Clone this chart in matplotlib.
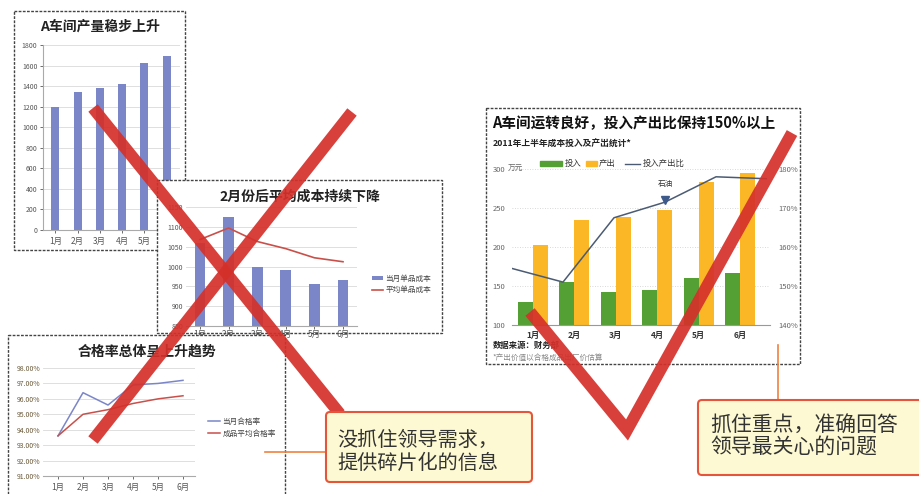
import numpy as np
import matplotlib.pyplot as plt
from matplotlib.patches import Rectangle, FancyBboxPatch
from matplotlib.ticker import FuncFormatter

plt.rcParams['font.family'] = ['Noto Sans CJK SC', 'DejaVu Sans']
plt.rcParams['axes.unicode_minus'] = False

W, H = 920, 494

months = ["1月", "2月", "3月", "4月", "5月", "6月"]

# A车间产量
output = [1200, 1340, 1380, 1420, 1620, 1690]
# 单品成本
cost_month = [1060, 1125, 1000, 990, 957, 965]
cost_avg = [1068, 1097, 1063, 1045, 1022, 1012]
# 合格率 (%)
pass_month = [93.6, 96.4, 95.6, 96.9, 97.0, 97.2]
pass_avg = [93.6, 95.0, 95.3, 95.7, 96.0, 96.2]
# 投入 / 产出 (万元), 投入产出比 (%)
invest = [130, 155, 142, 145, 160, 167]
produce = [202, 235, 238, 248, 283, 295]
ratio = [154.5, 151, 167.5, 171.5, 178, 177.5]

BLUE = '#7b86c8'
RED_LINE = '#c9504a'
GRID = '#d9d9d9'
TICK = '#555555'


def rect(l, t, r, b):
    return [l / W, 1 - b / H, (r - l) / W, (b - t) / H]


fig = plt.figure(figsize=(9.2, 4.94), dpi=100)


def card(l, t, r, b, z):
    # white paper with dotted border, coordinates in pixels
    ax = fig.add_axes(rect(l, t, r, b), zorder=z)
    ax.set_xlim(l, r)
    ax.set_ylim(b, t)
    ax.set_axis_off()
    ax.add_patch(Rectangle((l, t), r - l, b - t, facecolor='white', edgecolor='#444444',
                           lw=1.0, ls=(0, (2, 1)), clip_on=False))
    return ax


def style_small(ax, fs=5):
    for s in ['top', 'right']:
        ax.spines[s].set_visible(False)
    ax.spines['left'].set_color('#aaaaaa')
    ax.spines['bottom'].set_color('#aaaaaa')
    ax.tick_params(labelsize=fs, colors=TICK, length=2, width=0.6, pad=2)
    ax.grid(axis='y', color=GRID, lw=0.6)
    ax.set_axisbelow(True)
    ax.patch.set_alpha(0)


x = np.arange(len(months))

# ---------- chart 1 ----------
c1 = card(14, 11, 185, 250, 1)
c1.text(100, 27, "A车间产量稳步上升", ha='center', va='center', fontsize=10, fontweight='bold', color='#222222')
a1 = fig.add_axes(rect(43, 45, 180, 230), zorder=1.5)
a1.bar(x, output, width=0.36, color=BLUE)
a1.set_xlim(-0.55, 5.6)
a1.set_ylim(0, 1800)
a1.set_yticks(range(0, 1801, 200))
a1.set_xticks(x, months)
style_small(a1)
a1.tick_params(axis='x', labelsize=6, pad=3)

# ---------- chart 2 ----------
c2 = card(157, 180, 442, 333, 2)
c2.text(300, 197, "2月份后平均成本持续下降", ha='center', va='center', fontsize=10, fontweight='bold', color='#222222')
a2 = fig.add_axes(rect(186, 207, 357, 326), zorder=2.5)
bars2 = a2.bar(x, cost_month, width=0.38, color=BLUE)
line2, = a2.plot(x, cost_avg, color=RED_LINE, lw=1.2)
a2.set_xlim(-0.49, 5.49)
a2.set_ylim(850, 1150)
a2.set_yticks(range(850, 1151, 50))
a2.set_xticks(x, months)
style_small(a2)
a2.tick_params(axis='x', labelsize=6, pad=1)
a2.spines['left'].set_visible(False)
a2.tick_params(axis='y', length=0)
a2.legend([bars2, line2], ["当月单品成本", "平均单品成本"],
          loc='upper left', bbox_to_anchor=(368 / W, 1 - 271 / H), bbox_transform=fig.transFigure,
          frameon=False, fontsize=5.5, handlelength=1.5, handleheight=0.5, handletextpad=0.3,
          labelspacing=0.45, borderpad=0, labelcolor='#444444')

# ---------- chart 3 ----------
c3 = card(8, 335, 285, 500, 3)
c3.text(147, 352, "合格率总体呈上升趋势", ha='center', va='center', fontsize=10, fontweight='bold', color='#222222')
a3 = fig.add_axes(rect(43, 368, 195, 476), zorder=3.5)
a3.plot(x, pass_month, color=BLUE, lw=1.1, label="当月合格率")
a3.plot(x, pass_avg, color=RED_LINE, lw=1.1, label="成品平均合格率")
a3.set_xlim(-0.6, 5.48)
a3.set_ylim(91, 98)
a3.set_yticks(range(91, 99))
a3.yaxis.set_major_formatter(FuncFormatter(lambda v, p: f"{v:.2f}%"))
a3.set_xticks(x, months)
style_small(a3)
a3.spines['left'].set_visible(False)
a3.tick_params(axis='y', length=0, colors='#6b5a3a')
a3.tick_params(axis='x', labelsize=6, pad=3)
a3.legend(loc='upper left', bbox_to_anchor=(204 / W, 1 - 414 / H), bbox_transform=fig.transFigure,
          frameon=False, fontsize=5.5, handlelength=1.6, handletextpad=0.3,
          labelspacing=0.55, borderpad=0, labelcolor='#444444')

# ---------- chart 4 ----------
GREEN = '#55a035'
ORANGE = '#fbb725'
SLATE = '#4b5b73'
c4 = card(486, 108, 800, 364, 4)
c4.text(492, 123, "A车间运转良好，投入产出比保持150%以上", ha='left', va='center',
        fontsize=10.5, fontweight='bold', color='#111111')
c4.text(493, 144, "2011年上半年成本投入及产出统计*", ha='left', va='center',
        fontsize=6.3, fontweight='bold', color='#222222')
# legend row
c4.add_patch(Rectangle((540, 161), 22, 5, color=GREEN))
c4.text(565, 163.5, "投入", fontsize=6, va='center', color='#333333')
c4.add_patch(Rectangle((586, 161), 11, 5, color=ORANGE))
c4.text(599, 163.5, "产出", fontsize=6, va='center', color='#333333')
c4.plot([625, 640], [163.5, 163.5], color=SLATE, lw=1)
c4.text(643, 163.5, "投入产出比", fontsize=6, va='center', color='#333333')
c4.text(508, 169, "万元", fontsize=5.5, va='center', ha='left', color='#666666')
c4.text(493, 345, "数据来源：财务部", fontsize=6, va='center', fontweight='bold', color='#222222')
c4.text(493, 358, "*产出价值以合格成品出厂价估算", fontsize=5.5, va='center', color='#888888')

a4 = fig.add_axes(rect(512, 169, 770, 325), zorder=4.5)
a4.bar(x - 0.18, invest, width=0.36, color=GREEN)
a4.bar(x + 0.18, produce, width=0.36, color=ORANGE)
a4.set_xlim(-0.5, 5.72)
a4.set_ylim(100, 300)
a4.set_yticks(range(100, 301, 50))
a4.set_xticks(x, months)
for s in ['top', 'right', 'left']:
    a4.spines[s].set_visible(False)
a4.spines['bottom'].set_color('#999999')
a4.tick_params(axis='y', length=0, labelsize=5.5, colors='#666666', pad=5)
a4.tick_params(axis='x', length=0, labelsize=6, colors='#333333', pad=4)
for lab in a4.get_xticklabels():
    lab.set_fontweight('bold')
a4.grid(axis='y', color='#cccccc', lw=0.6, ls=(0, (1, 2)))
a4.set_axisbelow(True)
a4.patch.set_alpha(0)

a5 = fig.add_axes(rect(512, 169, 767, 325), zorder=4.6)
a5.patch.set_alpha(0)
a5.plot(x, ratio, color=SLATE, lw=1.1)
a5.plot(x[3], ratio[3] + 0.6, marker='v', ms=6, color='#3d5a8a')
a5.annotate("石油", (x[3], ratio[3]), xytext=(0, 10), textcoords='offset points',
            ha='center', va='bottom', fontsize=5.5, color='#333333')
a5.set_xlim(0, 5)
a5.set_ylim(140, 180)
a5.set_yticks(range(140, 181, 10))
a5.yaxis.set_major_formatter(FuncFormatter(lambda v, p: f"{v:.0f}%"))
a5.yaxis.tick_right()
a5.set_xticks([])
for s in a5.spines.values():
    s.set_visible(False)
a5.tick_params(axis='y', length=0, labelsize=5.5, colors='#666666', pad=8)

# ---------- overlay: strokes and callouts ----------
ov = fig.add_axes([0, 0, 1, 1], zorder=100)
ov.set_xlim(0, W)
ov.set_ylim(H, 0)
ov.set_axis_off()
ov.patch.set_alpha(0)

ORANGE_LINE = '#f08040'
ov.plot([265, 328], [452, 452], color=ORANGE_LINE, lw=1.2)
ov.plot([778, 778], [345, 400], color=ORANGE_LINE, lw=1.2)

STROKE = '#d5302a'
kw = dict(color=STROKE, lw=8.6, alpha=0.92, solid_capstyle='butt', solid_joinstyle='miter')
ov.plot([93, 340], [108, 414], **kw)
ov.plot([352, 93], [112, 440], **kw)
ov.plot([530, 627, 792], [312, 430, 133], **kw)

BOX_FACE = '#fdf9d2'
BOX_EDGE = '#e5553a'
ov.add_patch(FancyBboxPatch((326, 412), 206, 70, boxstyle="round,pad=0,rounding_size=4",
                            facecolor=BOX_FACE, edgecolor=BOX_EDGE, lw=1.5, zorder=5))
ov.text(337, 440, "没抓住领导需求，", fontsize=14.5, va='center', ha='left', color='#333333', zorder=6)
ov.text(337, 463, "提供碎片化的信息", fontsize=14.5, va='center', ha='left', color='#333333', zorder=6)

ov.add_patch(FancyBboxPatch((698, 400), 230, 75, boxstyle="round,pad=0,rounding_size=4",
                            facecolor=BOX_FACE, edgecolor=BOX_EDGE, lw=1.5, zorder=5, clip_on=False))
ov.text(710, 425, "抓住重点，准确回答", fontsize=15, va='center', ha='left', color='#333333', zorder=6)
ov.text(710, 448, "领导最关心的问题", fontsize=15, va='center', ha='left', color='#333333', zorder=6)

fig.savefig("out.png", dpi=100)
